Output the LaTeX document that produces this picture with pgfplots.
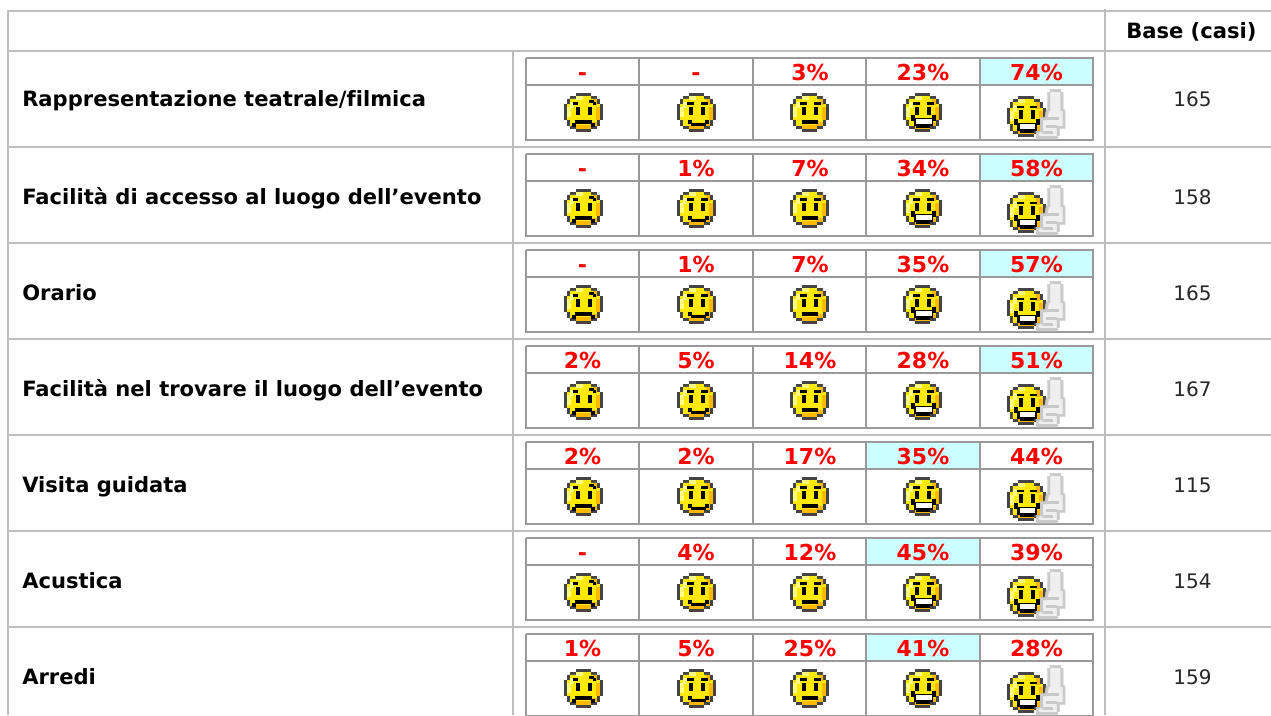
\documentclass[border=0pt]{standalone}
\usepackage{fontspec}
\setmainfont[Ligatures=NoCommon]{DejaVu Sans}
\usepackage{pgfplots}
\usepackage{pgfplotstable}
\pgfplotsset{compat=1.18}
\definecolor{outer}{HTML}{BDBDBD}
\definecolor{inner}{HTML}{999999}
\definecolor{hilite}{HTML}{CCFFFF}
\definecolor{smdark}{HTML}{444444}
\definecolor{smyel}{HTML}{FFE900}
\definecolor{smora}{HTML}{FFB800}
\definecolor{smpale}{HTML}{FFFF80}
\definecolor{thumbg}{HTML}{C9C9C9}
\definecolor{thumbw}{HTML}{EFEFEF}

% percentages: x (column centre), y (baseline), value
\pgfplotstableread{
x y v
810 80.5 3
923 80.5 23
1036.5 80.5 74
696 176.5 1
810 176.5 7
923 176.5 34
1036.5 176.5 58
696 272.5 1
810 272.5 7
923 272.5 35
1036.5 272.5 57
582.5 368.5 2
696 368.5 5
810 368.5 14
923 368.5 28
1036.5 368.5 51
582.5 464.5 2
696 464.5 2
810 464.5 17
923 464.5 35
1036.5 464.5 44
696 560.5 4
810 560.5 12
923 560.5 45
1036.5 560.5 39
582.5 656.5 1
696 656.5 5
810 656.5 25
923 656.5 41
1036.5 656.5 28
}\pcttable

\pgfplotstableread{
x y v
1192.5 106 165
1192.5 204 158
1192.5 300 165
1192.5 396 167
1192.5 492 115
1192.5 588 154
1192.5 684 159
}\basetable

\newcommand{\cellgrid}[3]{\addplot[inner,line width=1.5pt,line join=miter] coordinates {(526,#1)(1093,#1)(1093,#3)(526,#3)(526,#1)(526,nan) (526,#2)(1093,#2) (1093,nan) (639,#1)(639,#3) (639,nan) (753,#1)(753,#3) (753,nan) (866,#1)(866,#3) (866,nan) (980,#1)(980,#3)};}
\newcommand{\hilitecell}[4]{\addplot[fill=hilite,draw=none] coordinates {(#1,#3)(#2,#3)(#2,#4)(#1,#4)} --cycle;}

% pixel face of the smiley, in cells of 2.9 px (13 x 13), y downward
\newcommand{\pxr}[5]{\fill[#1] (#2,#3) rectangle (#4,#5);}
\newcommand{\smbody}{%
  \fill[smdark] (4,0)--(9,0)--(9,1)--(11,1)--(11,2)--(12,2)--(12,4)--(13,4)--(13,9)--(12,9)--(12,11)--(11,11)--(11,12)--(9,12)--(9,13)--(4,13)--(4,12)--(2,12)--(2,11)--(1,11)--(1,9)--(0,9)--(0,4)--(1,4)--(1,2)--(2,2)--(2,1)--(4,1)--cycle;
  \fill[smyel] (4,1)--(9,1)--(9,2)--(11,2)--(11,4)--(12,4)--(12,9)--(11,9)--(11,11)--(9,11)--(9,12)--(4,12)--(4,11)--(2,11)--(2,9)--(1,9)--(1,4)--(2,4)--(2,2)--(4,2)--cycle;
  \pxr{smora}{4}{11}{9}{12}\pxr{smora}{9}{10}{11}{11}\pxr{smora}{11}{5}{12}{9}\pxr{smora}{10}{2}{11}{4}
  \pxr{smpale}{1}{5}{2}{8}\pxr{smpale}{2}{3}{3}{5}\pxr{smpale}{4}{1}{6}{2}
}
\newcommand{\smeyes}{\pxr{black}{4.1}{4.7}{5.1}{7.2}\pxr{black}{8.3}{4.7}{9.3}{7.2}}
\pgfdeclareplotmark{smA}{\begin{scope}[x=2.175pt,y=-2.175pt]\smbody\smeyes
  \pxr{black}{3}{3}{4.2}{3.7}\pxr{black}{8.6}{2.6}{9.8}{3.3}\pxr{black}{9.8}{3.3}{10.6}{4}
  \pxr{black}{3.5}{9.4}{9.2}{10.4}\pxr{black}{2.6}{10.4}{3.5}{11.3}\pxr{black}{9.2}{10.4}{10.1}{11.3}\end{scope}}
\pgfdeclareplotmark{smB}{\begin{scope}[x=2.175pt,y=-2.175pt]\smbody\smeyes
  \pxr{black}{3.4}{3.2}{5.5}{3.8}\pxr{black}{8.1}{3.2}{10.2}{3.8}
  \pxr{black}{3.5}{9.4}{4.7}{10.4}\pxr{black}{4.7}{10.4}{9.4}{11.2}\pxr{black}{9.4}{9.4}{10.6}{10.4}\end{scope}}
\pgfdeclareplotmark{smC}{\begin{scope}[x=2.175pt,y=-2.175pt]\smbody\smeyes
  \pxr{black}{3.4}{3.2}{5.5}{3.8}\pxr{black}{8.1}{3.2}{10.2}{3.8}
  \pxr{black}{4.1}{9.4}{9.2}{10.4}\end{scope}}
\newcommand{\smgrin}{\smbody\smeyes
  \pxr{black}{3.4}{3.2}{5.5}{3.8}\pxr{black}{8.1}{3.2}{10.2}{3.8}
  \pxr{black}{2.6}{7.7}{3.6}{9.2}\pxr{black}{10}{7.7}{11}{9.2}\pxr{black}{3.5}{8.8}{10}{11.2}
  \pxr{black}{4.5}{11.2}{9}{11.7}\pxr{white}{4.4}{9.1}{9.4}{10.5}}
\pgfdeclareplotmark{smD}{\begin{scope}[x=2.175pt,y=-2.175pt]\smgrin\end{scope}}
\pgfdeclareplotmark{smE}{\begin{scope}[x=2.175pt,y=-2.3pt]\smgrin
  \fill[thumbg] (14.8,-2.2)--(18.5,-2.2)--(18.5,-1.2)--(19.3,-1.2)--(19.3,4.5)--(20,4.5)--(20,10.5)--(18,10.5)--(18,13)--(17.4,13)--(17.4,14)--(10,14)--(10,11.5)--(11.5,11.5)--(11.5,7)--(13,7)--(13.5,4.5)--(14,4.5)--(14,-1.2)--(14.8,-1.2)--cycle;
  \fill[thumbw] (15,-1.2)--(18.3,-1.2)--(18.3,5)--(19,5)--(19,9.7)--(17,9.7)--(17,13)--(11,13)--(11,12)--(12.5,12)--(12.5,8)--(14,8)--(14.5,5)--(15,5)--cycle;
  \pxr{thumbg}{14}{7}{17.5}{7.6}\pxr{thumbg}{13.5}{9.6}{17}{10.2}\pxr{thumbg}{12.5}{11.6}{15.5}{12.1}
  \end{scope}}

\begin{document}
\begin{tikzpicture}
\begin{axis}[
  width=953.25pt, height=536.25pt, scale only axis,
  xmin=0, xmax=1271, ymin=0, ymax=715, y dir=reverse,
  hide axis, clip=true, unbounded coords=jump,
  every node near coord/.append style={anchor=base, inner sep=0pt, outer sep=0pt, black},
]
% highlighted cells
\hilitecell{981}{1092}{59}{84}
\hilitecell{981}{1092}{155}{180}
\hilitecell{981}{1092}{251}{276}
\hilitecell{981}{1092}{347}{372}
\hilitecell{867}{979}{443}{468}
\hilitecell{867}{979}{539}{564}
\hilitecell{867}{979}{635}{660}
% outer table
\addplot[outer,line width=1.5pt] coordinates {(8,715)(8,11)(1271,11)(1271,nan) (8,51)(1271,51)(1271,nan) (8,147)(1271,147)(1271,nan) (8,243)(1271,243)(1271,nan) (8,339)(1271,339)(1271,nan) (8,435)(1271,435)(1271,nan) (8,531)(1271,531)(1271,nan) (8,627)(1271,627)(1271,nan) (513,51)(513,715)(513,nan) (1105,9)(1105,715)};
% inner tables
\cellgrid{58}{85}{140}
\cellgrid{154}{181}{236}
\cellgrid{250}{277}{332}
\cellgrid{346}{373}{428}
\cellgrid{442}{469}{524}
\cellgrid{538}{565}{620}
\cellgrid{634}{661}{716}
% percentages
\addplot[only marks, mark=none, point meta=explicit symbolic,
  nodes near coords={\pgfplotspointmeta\%},
  every node near coord/.append style={text=red, font=\fontsize{16.5}{20}\selectfont\bfseries}]
  table[x=x,y=y,meta=v] {\pcttable};
\addplot[only marks, mark=none, point meta=explicit symbolic,
  nodes near coords={-},
  every node near coord/.append style={text=red, font=\fontsize{16.5}{20}\selectfont\bfseries}]
  coordinates {(582.5,80.5)(696,80.5)(582.5,176.5)(582.5,272.5)(582.5,560.5)};
% base
\addplot[only marks, mark=none, point meta=explicit symbolic,
  nodes near coords={\pgfplotspointmeta},
  every node near coord/.append style={text=black!85, font=\fontsize{15}{18}\selectfont}]
  table[x=x,y=y,meta=v] {\basetable};
% smileys, one series for each column
\addplot[only marks, mark=smA, mark options={xshift=-14.14pt,yshift=14.14pt}] coordinates {(583.5,112)(583.5,208)(583.5,304)(583.5,400)(583.5,496)(583.5,592)(583.5,688)};
\addplot[only marks, mark=smB, mark options={xshift=-14.14pt,yshift=14.14pt}] coordinates {(696.5,112)(696.5,208)(696.5,304)(696.5,400)(696.5,496)(696.5,592)(696.5,688)};
\addplot[only marks, mark=smC, mark options={xshift=-14.14pt,yshift=14.14pt}] coordinates {(809.5,112)(809.5,208)(809.5,304)(809.5,400)(809.5,496)(809.5,592)(809.5,688)};
\addplot[only marks, mark=smD, mark options={xshift=-14.14pt,yshift=14.14pt}] coordinates {(922.5,112)(922.5,208)(922.5,304)(922.5,400)(922.5,496)(922.5,592)(922.5,688)};
\addplot[only marks, mark=smE, mark options={xshift=-14.14pt,yshift=14.95pt}] coordinates {(1026,116)(1026,212)(1026,308)(1026,404)(1026,500)(1026,596)(1026,692)};
% row and column labels
\begin{scope}[every node/.style={anchor=base west, inner sep=0pt, font=\fontsize{15.8}{19}\selectfont\bfseries, text=black}]
\node at (axis cs:22,106) {Rappresentazione teatrale/filmica};
\node at (axis cs:22,204) {Facilità di accesso al luogo dell’evento};
\node at (axis cs:22,300) {Orario};
\node at (axis cs:22,396) {Facilità nel trovare il luogo dell’evento};
\node at (axis cs:22,492) {Visita guidata};
\node at (axis cs:22,588) {Acustica};
\node at (axis cs:22,684) {Arredi};
\node at (axis cs:1126,38) {Base (casi)};
\end{scope}
\end{axis}
\pgfresetboundingbox
\path[use as bounding box] (current axis.south west) rectangle (current axis.north east);
\end{tikzpicture}
\end{document}
